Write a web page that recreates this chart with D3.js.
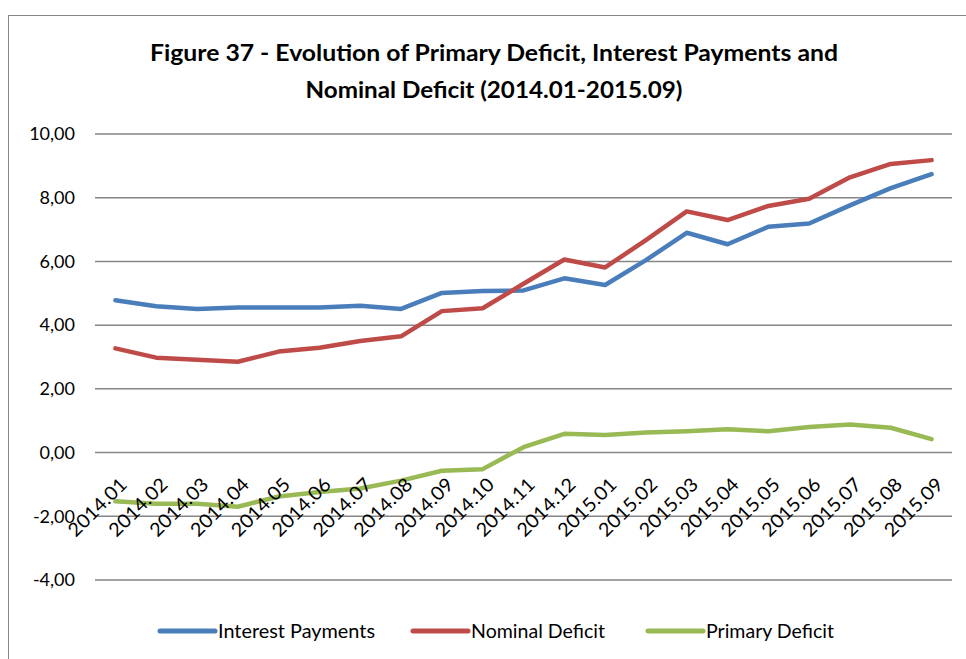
<!DOCTYPE html>
<html><head><meta charset="utf-8">
<script src="https://cdn.jsdelivr.net/npm/d3@7"></script>
<style>body{margin:0;background:#fff}svg{display:block}text{font-family:Lato,"Open Sans",sans-serif;fill:#000}</style>
</head><body>
<svg id="c" width="966" height="659"></svg>
<script>
const categories = ["2014.01","2014.02","2014.03","2014.04","2014.05","2014.06","2014.07","2014.08","2014.09","2014.10","2014.11","2014.12","2015.01","2015.02","2015.03","2015.04","2015.05","2015.06","2015.07","2015.08","2015.09"];
const interestPayments = [4.78,4.59,4.51,4.55,4.55,4.55,4.61,4.51,5.01,5.07,5.09,5.47,5.26,6.04,6.90,6.54,7.09,7.19,7.76,8.30,8.74];
const nominalDeficit = [3.27,2.98,2.91,2.85,3.17,3.29,3.50,3.65,4.44,4.53,5.30,6.06,5.81,6.67,7.57,7.30,7.74,7.97,8.64,9.06,9.18];
const primaryDeficit = [-1.53,-1.61,-1.61,-1.70,-1.38,-1.24,-1.13,-0.88,-0.57,-0.52,0.17,0.59,0.55,0.63,0.67,0.73,0.67,0.80,0.88,0.78,0.42];
const seriesNames = ["Interest Payments","Nominal Deficit","Primary Deficit"];
const seriesColors = ["#4A7EBB","#BE4B48","#98B954"];
const yTicks = [-4,-2,0,2,4,6,8,10];
const titleLines = ["Figure 37 - Evolution of Primary Deficit, Interest Payments and","Nominal Deficit (2014.01-2015.09)"];

const svg = d3.select("#c");
// outer frame
svg.append("rect").attr("x",8.5).attr("y",15.5).attr("width",980).attr("height",700)
  .attr("fill","none").attr("stroke","#868686").attr("stroke-width",1);

const x = d3.scaleBand().domain(categories).range([95,952]);
const y = d3.scaleLinear().domain([-4,10]).range([580,134]);
const fmt = v => d3.format(".2f")(v).replace(".",",").replace("\u2212","-");

// gridlines
svg.append("g").selectAll("line").data(yTicks).join("line")
  .attr("x1",95).attr("x2",952).attr("y1",d=>y(d)).attr("y2",d=>y(d))
  .attr("stroke","#868686").attr("stroke-width",1.5);

// y axis labels
const yAxis = d3.axisLeft(y).tickValues(yTicks).tickFormat(fmt).tickSize(0).tickPadding(0);
const yg = svg.append("g").attr("transform","translate(75,0)").call(yAxis);
yg.select(".domain").remove();
yg.selectAll("text").attr("font-size",18).attr("font-family","Lato").attr("fill","#000");

// lines
const data = [interestPayments,nominalDeficit,primaryDeficit];
const line = d3.line().x((d,i)=>x(categories[i])+x.bandwidth()/2).y(d=>y(d));
svg.append("g").selectAll("path").data(data).join("path")
  .attr("d",line).attr("fill","none")
  .attr("stroke",(d,i)=>seriesColors[i]).attr("stroke-width",4.5)
  .attr("stroke-linejoin","round").attr("stroke-linecap","round");

// x labels
const xg = svg.append("g");
xg.selectAll("text").data(categories).join("text")
  .attr("transform",d=>`translate(${x(d)+x.bandwidth()/2+8},${481}) rotate(-45)`)
  .attr("text-anchor","end").attr("dy","0.35em").attr("font-size",19)
  .attr("textLength",74).attr("lengthAdjust","spacingAndGlyphs").text(d=>d);

// title
const titleLen = [688,377];
svg.append("g").selectAll("text").data(titleLines).join("text")
  .attr("x",494).attr("y",(d,i)=>61+i*37).attr("text-anchor","middle")
  .attr("font-size",23).attr("font-weight","bold")
  .attr("textLength",(d,i)=>titleLen[i]).attr("lengthAdjust","spacingAndGlyphs").text(d=>d);

// legend
const legX = [160,413,648];
const legLen = [157,134,128];
const lg = svg.append("g").selectAll("g").data(seriesNames).join("g")
  .attr("transform",(d,i)=>`translate(${legX[i]},631)`);
lg.append("line").attr("x1",0).attr("x2",55).attr("y1",0).attr("y2",0)
  .attr("stroke",(d,i)=>seriesColors[i]).attr("stroke-width",5).attr("stroke-linecap","round");
lg.append("text").attr("x",58).attr("dy","0.35em").attr("font-size",19)
  .attr("textLength",(d,i)=>legLen[i]).attr("lengthAdjust","spacingAndGlyphs").text(d=>d);
</script>
</body></html>
